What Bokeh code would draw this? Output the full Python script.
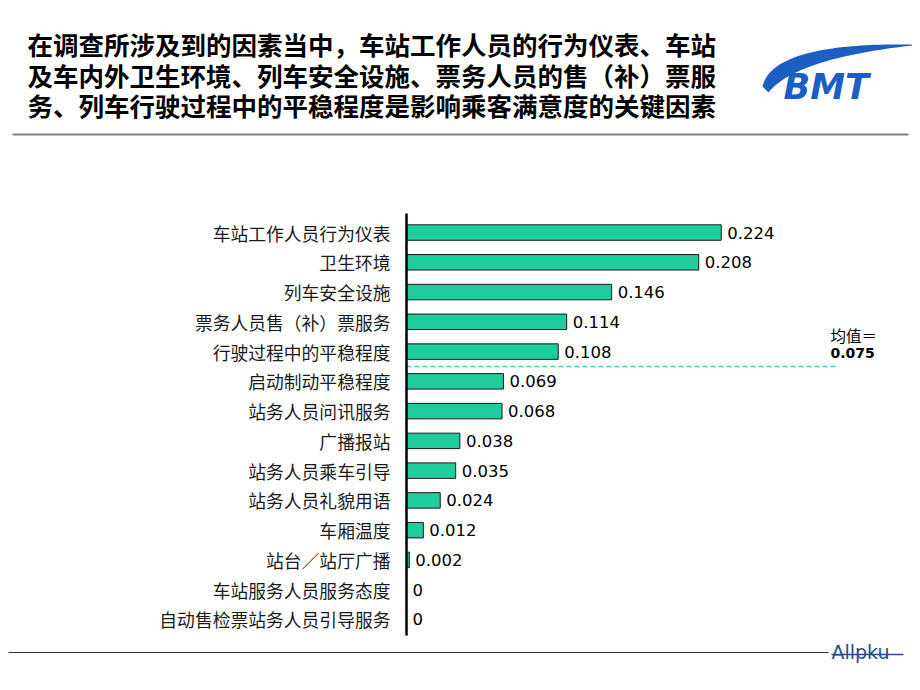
import numpy as np
from bokeh.plotting import figure
from bokeh.layouts import column
from bokeh.models import Range1d, FixedTicker, Label
from bokeh.core.properties import value
from bokeh.embed import file_html
from bokeh.resources import INLINE

# ---------------- data ----------------
title_lines = [
    "在调查所涉及到的因素当中，车站工作人员的行为仪表、车站",
    "及车内外卫生环境、列车安全设施、票务人员的售（补）票服",
    "务、列车行驶过程中的平稳程度是影响乘客满意度的关键因素",
]
categories = [
    "车站工作人员行为仪表",
    "卫生环境",
    "列车安全设施",
    "票务人员售（补）票服务",
    "行驶过程中的平稳程度",
    "启动制动平稳程度",
    "站务人员问讯服务",
    "广播报站",
    "站务人员乘车引导",
    "站务人员礼貌用语",
    "车厢温度",
    "站台／站厅广播",
    "车站服务人员服务态度",
    "自动售检票站务人员引导服务",
]
values = [0.224, 0.208, 0.146, 0.114, 0.108, 0.069, 0.068,
          0.038, 0.035, 0.024, 0.012, 0.002, 0, 0]
mean_value = 0.075
mean_caption = "均值＝"
logo_text = "BMT"
footer_text = "Allpku"

W = 912
CJK = value("Noto Sans CJK SC")
BLUE = "#1c5fc4"

def bare(fig):
    fig.grid.visible = False
    fig.background_fill_color = "white"
    fig.border_fill_color = "white"
    return fig

# ---------------- header ----------------
HH = 148
hd = figure(width=W, height=HH, x_range=Range1d(0, W), y_range=Range1d(HH, 0),
            x_axis_location=None, y_axis_location=None, min_border=0,
            toolbar_location=None, output_backend="svg", outline_line_color=None,
            frame_align=False)
bare(hd)
hd.text(x=[27, 27, 27], y=[43, 74, 104], text=title_lines, text_font=CJK,
        text_font_size="25.5px", text_font_style="bold", text_color="#000000",
        text_baseline="middle", text_align="left")
hd.line([12, 908], [134, 134], line_color="#808080", line_width=2)

# logo swoosh (decoration)
t = np.linspace(0, 1, 50)
def bez(p0, c, p2):
    x = (1 - t) ** 2 * p0[0] + 2 * t * (1 - t) * c[0] + t ** 2 * p2[0]
    y = (1 - t) ** 2 * p0[1] + 2 * t * (1 - t) * c[1] + t ** 2 * p2[1]
    return x, y
ox, oy = bez((762, 86), (772, 42), (912, 44))
ix, iy = bez((912, 45), (795, 58), (768, 92))
hd.patch(np.concatenate([ox, ix]), np.concatenate([oy, iy]),
         fill_color=BLUE, line_color=None)
hd.text(x=[783], y=[86], text=[logo_text], text_font=value("DejaVu Sans"),
        text_font_size="35px", text_font_style="bold italic", text_color=BLUE,
        text_baseline="alphabetic")

# ---------------- main chart ----------------
n = len(categories)
idx = list(range(n))
labels = [f"{v:g}" for v in values]
SCALE = 1405.0               # pixels per unit of value
X_END = (912 - 27 - 406) / SCALE
LINE_END = (835 - 406) / SCALE

p = figure(width=W, height=490,
           x_range=Range1d(0, X_END), y_range=Range1d(n - 1 + 0.54, -0.64),
           x_axis_location=None,
           min_border_left=406, min_border_right=27, min_border_top=65,
           min_border_bottom=3, toolbar_location=None, output_backend="svg",
           outline_line_color=None, frame_align=False)
bare(p)

p.hbar(y=idx, left=0, right=values, height=0.52,
       fill_color="#1fcc9c", line_color="#1a1a1a", line_width=1)
p.text(x=values, y=idx, text=labels, x_offset=6, text_baseline="middle",
       text_font=value("DejaVu Sans"), text_font_size="16.5px",
       text_color="#000000")

ax = p.yaxis[0]
ax.ticker = FixedTicker(ticks=idx)
ax.major_label_overrides = {i: c for i, c in enumerate(categories)}
ax.major_label_text_font = "Noto Sans CJK SC"
ax.major_label_text_font_size = "17.8px"
ax.major_label_text_color = "#1a1a1a"
ax.major_label_standoff = 16
ax.axis_line_width = 2.5
ax.axis_line_color = "#000000"
ax.major_tick_line_color = None
ax.minor_tick_line_color = None
ax.major_tick_out = 0
ax.major_tick_in = 0
ax.minor_tick_out = 0
ax.minor_tick_in = 0

sep_y = sum(1 for v in values if v > mean_value) - 0.5
p.segment(x0=[0], y0=[sep_y], x1=[LINE_END], y1=[sep_y], line_color="#40d4b4",
          line_width=1.5, line_dash="5 3")
p.add_layout(Label(x=LINE_END, y=sep_y, x_offset=-5, y_offset=31,
                   text=mean_caption, text_font="Noto Sans CJK SC",
                   text_font_size="15.5px", text_color="#000000",
                   text_baseline="middle"))
p.add_layout(Label(x=LINE_END, y=sep_y, x_offset=-5, y_offset=13,
                   text=f"{mean_value}", text_font="DejaVu Sans",
                   text_font_size="14px", text_font_style="bold",
                   text_color="#000000", text_baseline="middle"))

# ---------------- footer ----------------
FH = 44
fd = figure(width=W, height=FH, x_range=Range1d(0, W), y_range=Range1d(FH, 0),
            x_axis_location=None, y_axis_location=None, min_border=0,
            toolbar_location=None, output_backend="svg", outline_line_color=None,
            frame_align=False)
bare(fd)
fd.line([8, 828], [14, 14], line_color="#333333", line_width=1.2)
fd.text(x=[831], y=[13], text=[footer_text], text_font=value("DejaVu Sans"),
        text_font_size="19px", text_color="#2a4a8c", text_baseline="alphabetic")
fd.line([831, 903], [16, 16], line_color="#2a4a8c", line_width=1.5)

layout = column(hd, p, fd, spacing=0)
open("out.html", "w").write(file_html(layout, INLINE))
